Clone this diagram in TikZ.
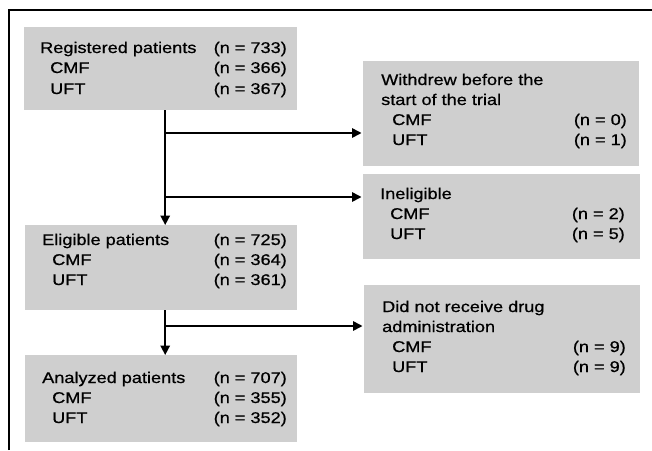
\documentclass[tikz,border=0pt]{standalone}
\usepackage{fontspec}
\setmainfont{Liberation Sans}[FakeStretch=1.17,FakeBold=0.7]
\usetikzlibrary{arrows.meta}
\newcommand\flrow[6]{%
  \node[txt] (#1L) at (#2,#3) {#4};
  \node[num] (#1R) at (#5,#3) {#6};}
\begin{document}
\begin{tikzpicture}[x=1pt,y=-1pt,
  box/.style={draw=none, fill=black!19, inner sep=0pt, anchor=north west},
  txt/.style={anchor=base west, inner sep=0pt, font=\fontsize{15.5}{18}\selectfont},
  num/.style={anchor=base east, inner sep=0pt, font=\fontsize{15.5}{18}\selectfont},
  conn/.style={line width=1.6pt},
  arr/.style={conn, -{Triangle[length=9.5pt,width=9.5pt]}},
  frame/.style={line width=1.4pt}
]
\useasboundingbox (0,0) rectangle (652,450);
\coordinate (f1) at (9,450);
\coordinate (f2) at (9,10);
\coordinate (f3) at (652,10);
\draw[frame] (f1) -- (f2) -- (f3);

% boxes
\node[box, minimum width=273pt, minimum height=83pt] (boxreg) at (24,27) {};
\node[box, minimum width=272pt, minimum height=85pt] (boxelig) at (25,225) {};
\node[box, minimum width=272pt, minimum height=87pt] (boxanal) at (25,355) {};
\node[box, minimum width=276pt, minimum height=105pt] (boxwd) at (363,61) {};
\node[box, minimum width=277pt, minimum height=85pt] (boxinel) at (363,174) {};
\node[box, minimum width=276pt, minimum height=108pt] (boxdnr) at (364,285) {};

% texts
\flrow{rega}{40}{53}{Registered patients}{287}{(n = 733)}
\flrow{regb}{50}{73}{CMF}{287}{(n = 366)}
\flrow{regc}{50}{94}{UFT}{287}{(n = 367)}

\flrow{ela}{42}{245}{Eligible patients}{287}{(n = 725)}
\flrow{elb}{52}{265}{CMF}{287}{(n = 364)}
\flrow{elc}{52}{285}{UFT}{287}{(n = 361)}

\flrow{ana}{42}{383}{Analyzed patients}{287}{(n = 707)}
\flrow{anb}{52}{403}{CMF}{287}{(n = 355)}
\flrow{anc}{52}{423}{UFT}{287}{(n = 352)}

\node[txt] (wda) at (381,85) {Withdrew before the};
\node[txt] (wdb) at (381,105) {start of the trial};
\flrow{wdc}{392}{125}{CMF}{627}{(n = 0)}
\flrow{wdd}{392}{145}{UFT}{627}{(n = 1)}

\node[txt] (ina) at (380,199) {Ineligible};
\flrow{inb}{390}{219}{CMF}{625}{(n = 2)}
\flrow{inc}{390}{239}{UFT}{625}{(n = 5)}

\node[txt] (dna) at (382,312) {Did not receive drug};
\node[txt] (dnb) at (382,332) {administration};
\flrow{dnc}{392}{352}{CMF}{626}{(n = 9)}
\flrow{dnd}{392}{372}{UFT}{626}{(n = 9)}

% connectors
\coordinate (b1) at (165,133);
\coordinate (b2) at (165,197);
\coordinate (b3) at (165,326);
\draw[arr] ([xshift=4.5pt]boxreg.south) -- ([xshift=4pt]boxelig.north);
\draw[arr] ([xshift=4pt]boxelig.south) -- ([xshift=4pt]boxanal.north);
\draw[arr, shorten >=1.5pt] (b1) -- (b1 -| boxwd.west);
\draw[arr, shorten >=1.5pt] (b2) -- (b2 -| boxinel.west);
\draw[arr, shorten >=1.5pt] (b3) -- (b3 -| boxdnr.west);
\end{tikzpicture}
\end{document}
